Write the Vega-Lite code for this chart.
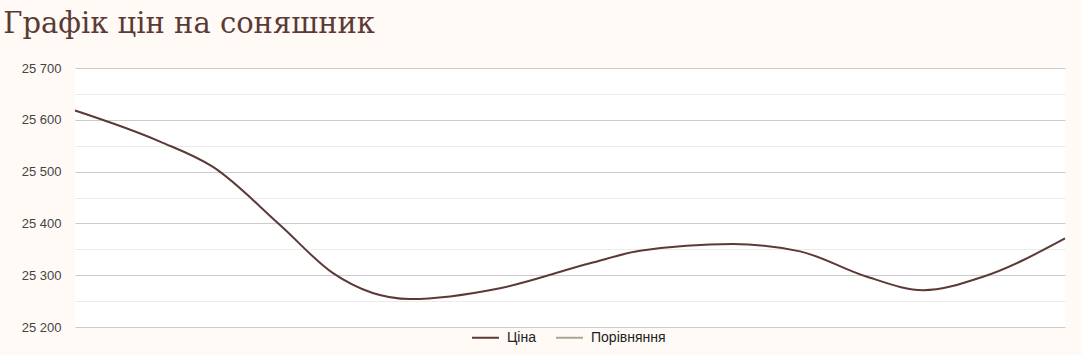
{
  "$schema": "https://vega.github.io/schema/vega-lite/v6.json",
  "width": 990,
  "height": 259,
  "autosize": {"type": "pad"},
  "padding": {"left": 3, "top": 10, "right": 17, "bottom": 10},
  "background": "#fffaf6",
  "view": {"fill": "#ffffff", "stroke": null},
  "title": {
    "text": "Графік цін на соняшник",
    "anchor": "start",
    "frame": "bounds",
    "font": "DejaVu Serif",
    "fontSize": 29,
    "fontWeight": "normal",
    "color": "#5b3a35",
    "baseline": "alphabetic",
    "offset": 0,
    "dx": -18
  },
  "data": {
    "values": [
      {"t": 0, "price": 25618, "series": "Ціна"},
      {"t": 85, "price": 25558, "series": "Ціна"},
      {"t": 138, "price": 25509, "series": "Ціна"},
      {"t": 205, "price": 25397, "series": "Ціна"},
      {"t": 258, "price": 25304, "series": "Ціна"},
      {"t": 335, "price": 25254, "series": "Ціна"},
      {"t": 425, "price": 25275, "series": "Ціна"},
      {"t": 515, "price": 25323, "series": "Ціна"},
      {"t": 565, "price": 25347, "series": "Ціна"},
      {"t": 658, "price": 25360, "series": "Ціна"},
      {"t": 725, "price": 25346, "series": "Ціна"},
      {"t": 792, "price": 25297, "series": "Ціна"},
      {"t": 848, "price": 25271, "series": "Ціна"},
      {"t": 908, "price": 25297, "series": "Ціна"},
      {"t": 990, "price": 25371, "series": "Ціна"}
    ]
  },
  "mark": {"type": "line", "interpolate": "monotone", "strokeWidth": 2},
  "encoding": {
    "x": {
      "field": "t",
      "type": "quantitative",
      "scale": {"domain": [0, 990], "nice": false, "zero": false},
      "axis": null
    },
    "y": {
      "field": "price",
      "type": "quantitative",
      "scale": {"domain": [25200, 25700], "nice": false, "zero": false},
      "axis": {
        "title": null,
        "values": [25200, 25250, 25300, 25350, 25400, 25450, 25500, 25550, 25600, 25650, 25700],
        "labelExpr": "datum.value % 100 == 0 ? replace(format(datum.value, ','), ',', ' ') : ''",
        "labelFont": "Liberation Sans",
        "labelFontSize": 13,
        "labelColor": "#444444",
        "labelPadding": 14,
        "ticks": false,
        "domain": false,
        "gridColor": {"condition": {"test": "datum.value % 100 == 0", "value": "#cccccc"}, "value": "#ebebeb"},
        "gridWidth": 1
      }
    },
    "color": {
      "field": "series",
      "type": "nominal",
      "scale": {"domain": ["Ціна", "Порівняння"], "range": ["#5b3a35", "#a3a897"]},
      "legend": {
        "title": null,
        "orient": "none",
        "direction": "horizontal",
        "legendX": 396,
        "legendY": 255,
        "symbolType": "stroke",
        "symbolSize": 729,
        "symbolStrokeWidth": 2,
        "labelFont": "Liberation Sans",
        "labelFontSize": 14,
        "labelColor": "#222222",
        "columnPadding": 16,
        "labelOffset": 7
      }
    }
  }
}
